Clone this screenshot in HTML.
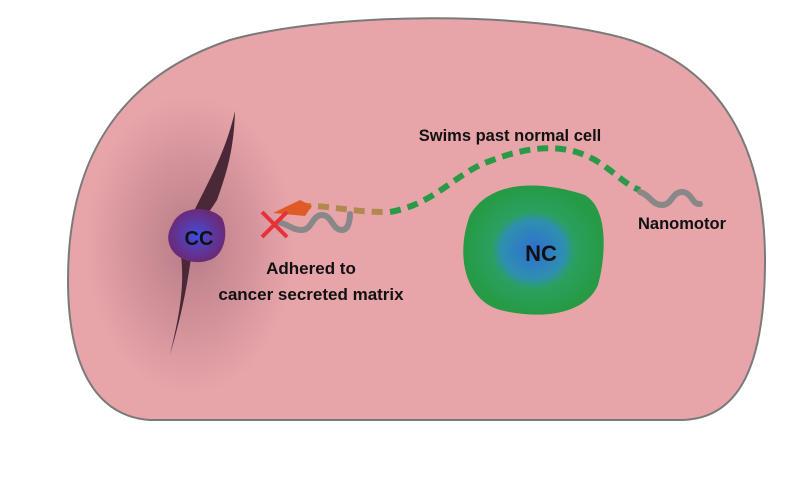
<!DOCTYPE html>
<html><head><meta charset="utf-8"><style>
html,body{margin:0;padding:0;background:#fff;width:799px;height:480px;overflow:hidden}
text{font-family:"Liberation Sans",sans-serif;font-weight:bold;fill:#111}
</style></head><body>
<svg width="799" height="480" viewBox="0 0 799 480">
<defs>
<radialGradient id="haze" cx="0.5" cy="0.5" r="0.5">
<stop offset="0" stop-color="#6a3a50" stop-opacity="0.4"/>
<stop offset="0.6" stop-color="#8a4e62" stop-opacity="0.2"/>
<stop offset="1" stop-color="#9a5a6a" stop-opacity="0"/>
</radialGradient>
<radialGradient id="ncg" cx="0.5" cy="0.5" r="0.5">
<stop offset="0" stop-color="#2f6fd0"/>
<stop offset="0.45" stop-color="#2f8fb0"/>
<stop offset="0.6" stop-color="#2aa060"/>
<stop offset="1" stop-color="#279a45"/>
</radialGradient>
<radialGradient id="ccg" cx="0.5" cy="0.5" r="0.5">
<stop offset="0" stop-color="#3c4fe0"/>
<stop offset="0.5" stop-color="#5a3aa8"/>
<stop offset="1" stop-color="#6a2a78"/>
</radialGradient>
</defs>
<path d="M150,420 C92,416 68,360 68,280 C68,170 110,80 230,40 C330,12 530,10 630,40 C730,72 765,160 765,260 C765,360 742,420 680,420 Z" fill="#e7a5aa" stroke="#7a7a7a" stroke-width="2"/>
<ellipse cx="190" cy="245" rx="105" ry="150" fill="url(#haze)"/>
<path d="M235,111 C234,150 226,175 217,200 L207,215 L192,250 C187,290 180,320 170,355 C178,320 185,290 181,255 L192,215 C212,175 226,150 235,111 Z" fill="#4a2838"/>
<path d="M172,225 C180,205 210,205 222,218 C228,230 226,250 214,258 C200,266 180,262 172,250 C166,240 168,232 172,225 Z" fill="url(#ccg)"/>
<text x="199" y="245" font-size="20" text-anchor="middle">CC</text>
<path d="M470,215 C490,180 540,180 585,195 C610,210 605,260 598,285 C585,315 540,320 500,310 C465,300 455,255 470,215 Z" fill="url(#ncg)"/>
<text x="541" y="261" font-size="22" text-anchor="middle">NC</text>
<path d="M300,206 C330,205 350,212 385,212" fill="none" stroke="#b2884f" stroke-width="6" stroke-dasharray="11,7"/>
<path d="M390,212 C430,205 450,180 480,165 C520,148 560,140 595,160 C615,172 625,185 640,190" fill="none" stroke="#2a9a48" stroke-width="6" stroke-dasharray="11,7"/>
<path d="M273,213 L300,200 L312,206 L305,216 Z" fill="#e05a28"/>
<path d="M278,222 C290,225 292,230 302,230 C312,230 312,215 322,215 C332,215 332,230 342,230 C350,230 350,215 350,214" fill="none" stroke="#888" stroke-width="6" stroke-linecap="round"/>
<path d="M262,212 L287,237 M287,212 L262,237" stroke="#e8303a" stroke-width="4"/>
<path d="M640,192 C650,195 652,205 662,205 C672,205 672,192 682,192 C692,192 692,205 700,204" fill="none" stroke="#888" stroke-width="6" stroke-linecap="round"/>
<text x="510" y="141" font-size="16.5" text-anchor="middle">Swims past normal cell</text>
<text x="682" y="229" font-size="16.5" text-anchor="middle">Nanomotor</text>
<text x="311" y="274" font-size="17" text-anchor="middle">Adhered to</text>
<text x="311" y="300" font-size="17" text-anchor="middle">cancer secreted matrix</text>
</svg>
</body></html>
